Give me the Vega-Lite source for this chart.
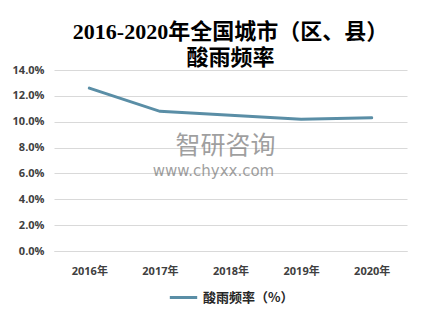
{
  "$schema": "https://vega.github.io/schema/vega-lite/v6.json",
  "width": 353,
  "height": 181,
  "padding": {"left": 12, "top": 21, "right": 18, "bottom": 5},
  "background": "white",
  "title": {
    "text": ["2016-2020年全国城市（区、县）", "酸雨频率"],
    "font": "Liberation Serif, Noto Sans CJK SC",
    "fontSize": 22,
    "fontWeight": "bold",
    "lineHeight": 26,
    "color": "#000000",
    "anchor": "middle",
    "offset": -6
  },
  "config": {
    "view": {"stroke": null},
    "font": "Open Sans, Noto Sans CJK SC",
    "axis": {"labelFont": "Open Sans, Noto Sans CJK SC", "labelFontWeight": "bold", "labelColor": "#404040", "labelFontSize": 11},
    "legend": {"layout": {"bottom": {"anchor": "middle"}}}
  },
  "data": {
    "values": [
      {"year": "2016年", "rate": 0.126, "series": "酸雨频率（%）"},
      {"year": "2017年", "rate": 0.108, "series": "酸雨频率（%）"},
      {"year": "2018年", "rate": 0.105, "series": "酸雨频率（%）"},
      {"year": "2019年", "rate": 0.102, "series": "酸雨频率（%）"},
      {"year": "2020年", "rate": 0.103, "series": "酸雨频率（%）"}
    ]
  },
  "encoding": {
    "x": {
      "field": "year", "type": "ordinal", "title": null,
      "scale": {"paddingInner": 0, "paddingOuter": 0.5},
      "axis": {"labelAngle": 0, "ticks": false, "labelPadding": 14, "domainColor": "#d9d9d9", "grid": false}
    },
    "y": {
      "field": "rate", "type": "quantitative", "title": null,
      "scale": {"domain": [0, 0.14], "nice": false},
      "axis": {"format": ".1%", "values": [0, 0.02, 0.04, 0.06, 0.08, 0.1, 0.12, 0.14], "labelOverlap": false, "labelBound": false, "labelFlush": false, "ticks": false, "domain": false, "gridColor": "#d9d9d9", "labelPadding": 10}
    }
  },
  "layer": [
    {
      "mark": {"type": "line", "strokeWidth": 3, "strokeCap": "round"},
      "encoding": {
        "color": {
          "field": "series", "type": "nominal",
          "scale": {"range": ["#5a8ea6"]},
          "legend": {"orient": "bottom", "title": null, "symbolType": "stroke", "symbolStrokeWidth": 3, "symbolSize": 750, "labelFontSize": 13, "labelFontWeight": "bold", "labelColor": "#262626", "labelFont": "Noto Sans CJK SC", "offset": 6}
        }
      }
    },
    {
      "data": {"values": [
        {"year": "2018年", "rate": 0.081, "t": "智研咨询"}
      ]},
      "mark": {"type": "text", "font": "Noto Sans CJK SC", "fontSize": 25, "color": "#7f7f7f", "opacity": 0.75, "dx": -5},
      "encoding": {
        "text": {"field": "t"}
      }
    },
    {
      "data": {"values": [
        {"year": "2018年", "rate": 0.062, "t": "www.chyxx.com"}
      ]},
      "mark": {"type": "text", "font": "DejaVu Sans", "fontSize": 15, "color": "#7f7f7f", "opacity": 0.75, "dx": -17},
      "encoding": {
        "text": {"field": "t"}
      }
    }
  ]
}
